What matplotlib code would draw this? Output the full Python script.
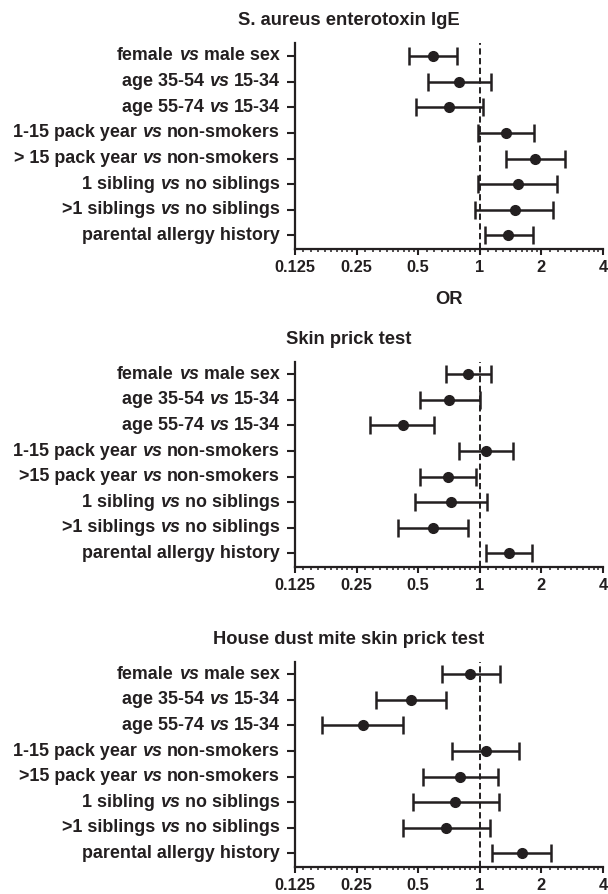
import matplotlib
matplotlib.use("Agg")
import matplotlib.pyplot as plt
from matplotlib.offsetbox import TextArea, HPacker, AnnotationBbox
from matplotlib.ticker import FixedLocator, NullFormatter

plt.rcParams['font.family'] = ['Liberation Sans', 'DejaVu Sans']
plt.rcParams['font.weight'] = 'bold'

# ---------------- data ----------------
labels_a = [("female", "vs", "male sex"),
            ("age 35-54", "vs", "15-34"),
            ("age 55-74", "vs", "15-34"),
            ("1-15 pack year", "vs", "non-smokers"),
            ("> 15 pack year", "vs", "non-smokers"),
            ("1 sibling", "vs", "no siblings"),
            (">1 siblings", "vs", "no siblings"),
            ("parental allergy history", "", "")]
labels_b = [("female", "vs", "male sex"),
            ("age 35-54", "vs", "15-34"),
            ("age 55-74", "vs", "15-34"),
            ("1-15 pack year", "vs", "non-smokers"),
            (">15 pack year", "vs", "non-smokers"),
            ("1 sibling", "vs", "no siblings"),
            (">1 siblings", "vs", "no siblings"),
            ("parental allergy history", "", "")]

titles = ["S. aureus enterotoxin IgE", "Skin prick test",
          "House dust mite skin prick test"]

or_aureus = [0.59, 0.79, 0.71, 1.34, 1.87, 1.53, 1.48, 1.38]
lo_aureus = [0.45, 0.56, 0.49, 0.98, 1.35, 0.98, 0.95, 1.06]
hi_aureus = [0.77, 1.13, 1.04, 1.85, 2.62, 2.38, 2.27, 1.82]

or_spt = [0.88, 0.71, 0.42, 1.07, 0.70, 0.72, 0.59, 1.39]
lo_spt = [0.68, 0.51, 0.29, 0.79, 0.51, 0.48, 0.40, 1.07]
hi_spt = [1.14, 1.00, 0.60, 1.45, 0.96, 1.08, 0.88, 1.80]

or_hdm = [0.90, 0.46, 0.27, 1.07, 0.80, 0.76, 0.68, 1.61]
lo_hdm = [0.65, 0.31, 0.17, 0.73, 0.53, 0.47, 0.42, 1.15]
hi_hdm = [1.26, 0.68, 0.42, 1.56, 1.23, 1.24, 1.12, 2.24]

xticks = [0.125, 0.25, 0.5, 1, 2, 4]
xticklabels = ["0.125", "0.25", "0.5", "1", "2", "4"]

panels = [(titles[0], labels_a, or_aureus, lo_aureus, hi_aureus),
          (titles[1], labels_b, or_spt, lo_spt, hi_spt),
          (titles[2], labels_b, or_hdm, lo_hdm, hi_hdm)]

# ---------------- layout ----------------
W, H = 608, 894
fig = plt.figure(figsize=(W / 100, H / 100), dpi=100)
col = '#231f20'
left = 295 / W
width = 308 / W
tops = [43.4, 361.7, 661.7]
bottoms = [249, 567, 867]
title_y = [20.7, 339, 640]

minor = []
for d in [0.125, 0.25, 0.5, 1, 2]:
    for k in range(1, 10):
        minor.append(d * (1 + k / 10))

FS_LAB = 12.9
FS_TICK = 11.8

for i, (title, labs, orv, lo, hi) in enumerate(panels):
    ax = fig.add_axes([left, 1 - bottoms[i] / H, width,
                       (bottoms[i] - tops[i]) / H])
    ax.set_xscale('log', base=2)
    ax.set_xlim(0.125, 4)
    ax.set_ylim(7.53, -0.49)
    y = list(range(len(orv)))
    xerr = [[o - l for o, l in zip(orv, lo)], [h - o for o, h in zip(orv, hi)]]
    ax.axvline(1, color=col, lw=1.4, ls=(0, (3.2, 1.8)), zorder=1)
    ax.errorbar(orv, y, xerr=xerr, fmt='o', color=col, ms=7,
                elinewidth=1.8, capsize=6.5, capthick=1.8, zorder=3)
    for s in ['top', 'right']:
        ax.spines[s].set_visible(False)
    for s in ['left', 'bottom']:
        ax.spines[s].set_linewidth(1.6)
        ax.spines[s].set_color(col)
    ax.xaxis.set_major_locator(FixedLocator(xticks))
    ax.set_xticklabels(xticklabels)
    ax.xaxis.set_minor_locator(FixedLocator(minor))
    ax.xaxis.set_minor_formatter(NullFormatter())
    ax.tick_params(axis='x', which='major', length=4, width=1.5, color=col,
                   labelsize=FS_TICK, pad=4, labelcolor=col)
    ax.tick_params(axis='x', which='minor', length=2.5, width=1.1, color=col)
    ax.set_yticks(y)
    ax.set_yticklabels([''] * len(y))
    ax.tick_params(axis='y', which='major', length=5.5, width=1.5, color=col)
    ax.tick_params(axis='y', which='minor', length=0)
    for t in ax.get_xticklabels():
        t.set_fontweight('bold')

    # row labels with italic "vs"
    for yy, (a, b, c) in zip(y, labs):
        parts = [TextArea(a, textprops=dict(size=FS_LAB, weight='bold', color=col))]
        if b:
            parts.append(TextArea(b, textprops=dict(size=FS_LAB, weight='bold',
                                                    style='italic', color=col)))
            parts.append(TextArea(c, textprops=dict(size=FS_LAB, weight='bold', color=col)))
        pack = HPacker(children=parts, align='baseline', pad=0, sep=3.6)
        ab = AnnotationBbox(pack, (0, yy), xycoords=('axes fraction', 'data'),
                            xybox=(-11.0, 0), boxcoords='offset points',
                            box_alignment=(1, 0.5), frameon=False,
                            annotation_clip=False)
        ax.add_artist(ab)

    fig.text(349 / W, 1 - title_y[i] / H, title, ha='center', va='center',
             fontsize=13.2, fontweight='bold', color=col)

fig.text((295 + 603) / 2 / W, 1 - 299 / H, "OR", ha='center', va='center',
         fontsize=13.2, fontweight='bold', color=col)

fig.savefig("out.png", dpi=100)
